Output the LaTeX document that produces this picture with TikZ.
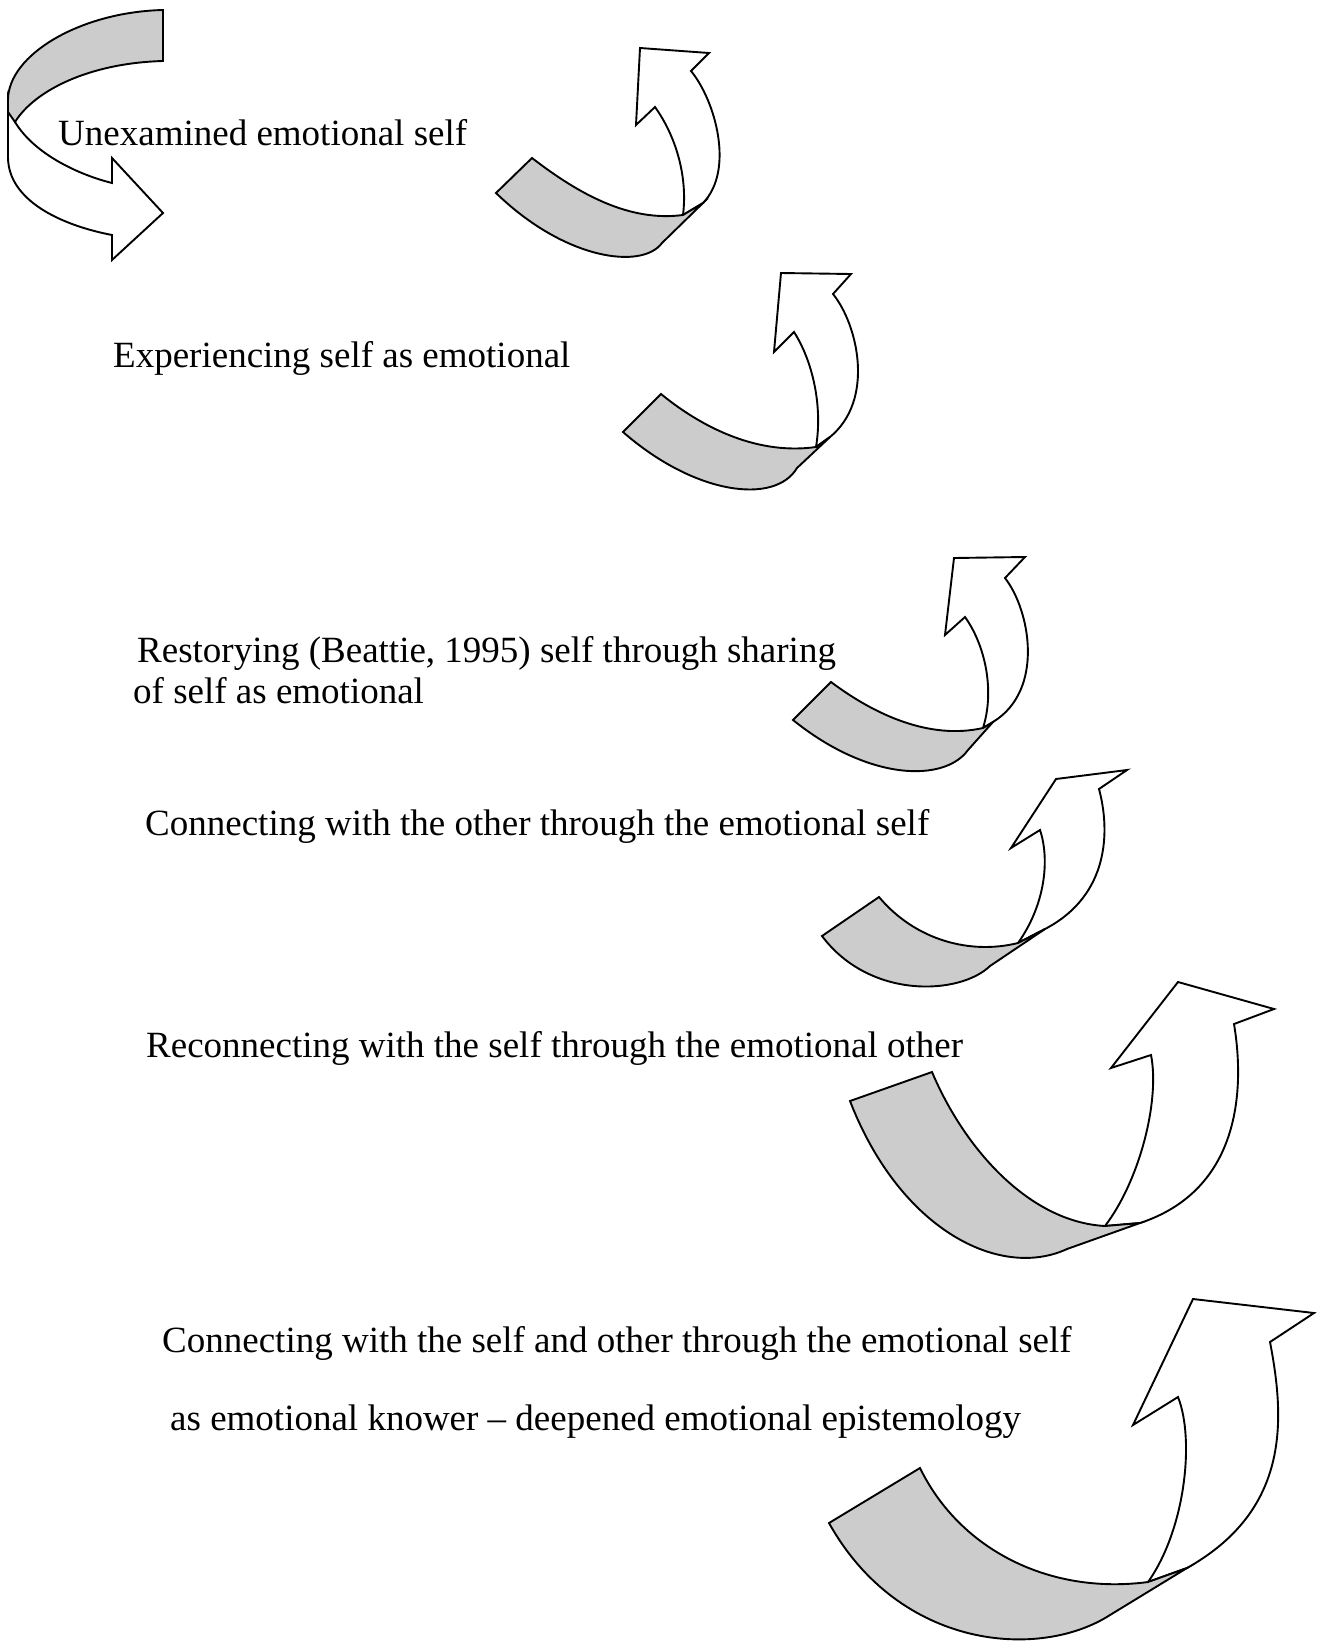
\documentclass[tikz,border=0pt]{standalone}
\usepackage{fontspec}
\setmainfont{Liberation Serif}
\definecolor{bandgray}{HTML}{CCCCCC}
\begin{document}
\begin{tikzpicture}[x=1pt,y=-1pt,
  lbl/.style={anchor=base west,inner sep=0pt,font=\fontsize{37}{44}\selectfont},
  grayband/.style={fill=bandgray,draw=black,line width=1.9pt,line join=miter},
  whiteband/.style={fill=white,draw=black,line width=1.9pt,line join=miter}]
\useasboundingbox (0,0) rectangle (1326,1641);

% ---- arrow 1: curved right arrow ----
\draw[whiteband] (8,97) -- (8,157) .. controls (8,200) and (60,225) .. (112,235)
  -- (112,260) -- (163,213) -- (112,158) -- (112,183)
  .. controls (80,175) and (35,155) .. (15,122) -- cycle;
\draw[grayband] (163,10) .. controls (80,12) and (8,55) .. (8,100) -- (8,112) -- (15,122)
  .. controls (35,90) and (90,63) .. (163,61) -- cycle;

% ---- arrow 2 ----
\draw[whiteband] (683,215) .. controls (688,175) and (675,135) .. (655,107)
  -- (636,125) -- (640,48) -- (709,53) -- (691,71)
  .. controls (715,100) and (735,170) .. (703,203) -- cycle;
\draw[grayband] (496,193) -- (532,158) .. controls (580,195) and (630,222) .. (683,215)
  -- (703,203) -- (662,243) .. controls (642,270) and (565,260) .. (496,193) -- cycle;

% ---- arrow 3 ----
\draw[whiteband] (816,447) .. controls (823,405) and (812,360) .. (794,332)
  -- (774,352) -- (781,273) -- (851,274) -- (833,294)
  .. controls (858,325) and (875,400) .. (830,437) -- cycle;
\draw[grayband] (623,432) -- (661,394) .. controls (705,430) and (760,455) .. (816,447)
  -- (830,437) -- (797,468) .. controls (775,505) and (695,495) .. (623,432) -- cycle;

% ---- arrow 4 ----
\draw[whiteband] (983,728) .. controls (995,690) and (985,645) .. (965,617)
  -- (945,635) -- (954,558) -- (1025,557) -- (1005,578)
  .. controls (1030,610) and (1045,690) .. (993,722) -- cycle;
\draw[grayband] (793,720) -- (831,682) .. controls (875,715) and (930,740) .. (983,728)
  -- (993,722) -- (968,750) .. controls (945,782) and (870,782) .. (793,720) -- cycle;

% ---- arrow 5 ----
\draw[whiteband] (1018,943) .. controls (1045,905) and (1050,860) .. (1040,830)
  -- (1011,848) -- (1056,779) -- (1127,770) -- (1099,789)
  .. controls (1110,830) and (1110,895) .. (1045,929) -- cycle;
\draw[grayband] (822,936) -- (879,897) .. controls (915,940) and (970,955) .. (1018,943)
  -- (1045,929) -- (990,966) .. controls (960,995) and (870,1000) .. (822,936) -- cycle;

% ---- arrow 6 ----
\draw[whiteband] (1105,1226) .. controls (1140,1180) and (1160,1100) .. (1151,1055)
  -- (1111,1068) -- (1178,982) -- (1274,1009) -- (1234,1024)
  .. controls (1245,1090) and (1240,1190) .. (1140,1223) -- cycle;
\draw[grayband] (850,1101) -- (932,1072) .. controls (965,1150) and (1030,1222) .. (1105,1226)
  -- (1140,1223) -- (1067,1249) .. controls (1000,1280) and (900,1230) .. (850,1101) -- cycle;

% ---- arrow 7 ----
\draw[whiteband] (1148,1582) .. controls (1185,1530) and (1195,1440) .. (1178,1397)
  -- (1133,1425) -- (1193,1299) -- (1314,1313) -- (1270,1342)
  .. controls (1285,1420) and (1290,1510) .. (1187,1568) -- cycle;
\draw[grayband] (829,1523) -- (920,1468) .. controls (960,1550) and (1050,1595) .. (1148,1582)
  -- (1187,1568) -- (1110,1615) .. controls (1040,1660) and (900,1650) .. (829,1523) -- cycle;

% ---- texts ----
\node[lbl] (t1) at (58,145) {Unexamined emotional self};
\node[lbl] (t2) at (113,367) {Experiencing self as emotional};
\node[lbl] (t3a) at (137,662) {Restorying (Beattie, 1995) self through sharing};
\node[lbl] (t3b) at (133,703) {of self as emotional};
\node[lbl] (t4) at (145,835) {Connecting with the other through the emotional self};
\node[lbl] (t5) at (146,1057) {Reconnecting with the self through the emotional other};
\node[lbl] (t6a) at (162,1352) {Connecting with the self and other through the emotional self};
\node[lbl] (t6b) at (170,1430) {as emotional knower – deepened emotional epistemology};
\end{tikzpicture}
\end{document}
